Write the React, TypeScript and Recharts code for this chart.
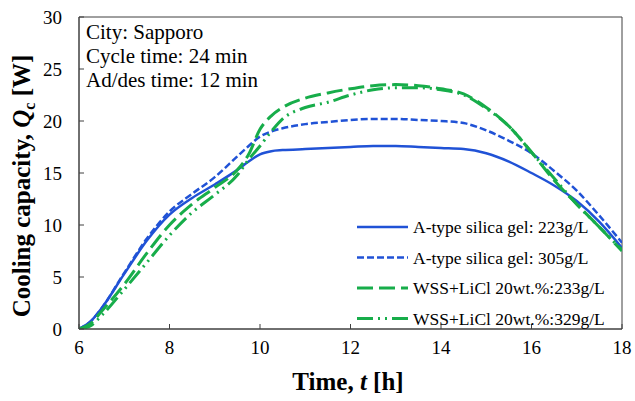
import React from 'react';
import { LineChart, Line, XAxis, YAxis, ReferenceArea, Legend } from 'recharts';

// time [h]
const TIMES = [6, 6.25, 6.5, 7, 7.5, 8, 8.5, 9, 9.5, 9.75, 10, 10.25, 10.5, 11, 11.5, 12, 12.5, 13, 13.5, 14, 14.5, 15, 15.5, 16, 16.5, 17, 17.5, 18];

// cooling capacity Qc [W]
const SILICA_223 = [0, 0.7, 2.0, 5.3, 8.5, 11.0, 12.6, 13.9, 15.3, 16.1, 16.8, 17.1, 17.2, 17.3, 17.4, 17.5, 17.6, 17.6, 17.5, 17.4, 17.3, 16.9, 16.1, 15.0, 13.8, 12.3, 10.3, 7.8];
const SILICA_305 = [0, 0.7, 2.0, 5.4, 8.7, 11.3, 13.0, 14.6, 16.6, 17.6, 18.5, 19.0, 19.3, 19.7, 19.9, 20.1, 20.2, 20.2, 20.1, 20.0, 19.8, 19.1, 18.1, 16.9, 15.2, 13.3, 10.9, 8.3];
const WSS_233 = [0, 0.5, 1.7, 4.3, 7.3, 10.0, 12.0, 13.6, 15.3, 16.8, 19.2, 20.5, 21.3, 22.2, 22.7, 23.1, 23.4, 23.5, 23.4, 23.1, 22.6, 21.3, 19.5, 17.0, 14.3, 12.0, 9.8, 7.5];
const WSS_329 = [0, 0.3, 1.3, 3.8, 6.4, 9.0, 11.2, 12.9, 14.8, 16.3, 17.6, 19.0, 20.2, 21.3, 21.8, 22.5, 23.0, 23.2, 23.2, 23.0, 22.5, 21.2, 19.5, 17.0, 14.5, 12.0, 9.8, 7.6];

const X_TICKS = [6, 8, 10, 12, 14, 16, 18];
const Y_TICKS = [0, 5, 10, 15, 20, 25, 30];

const NOTES = ['City: Sapporo', 'Cycle time: 24 min', 'Ad/des time: 12 min'];

const BLUE = '#2052d6';
const GREEN = '#17ad4a';
const AXIS = '#404040';
const FONT = 'Liberation Serif, Times New Roman, serif';

const SERIES = [
    { key: 's223', name: 'A-type silica gel: 223g/L', color: BLUE, dash: undefined, width: 2.5 },
    { key: 's305', name: 'A-type silica gel: 305g/L', color: BLUE, dash: '7 3', width: 2.5 },
    { key: 'w233', name: 'WSS+LiCl 20wt.%:233g/L', color: GREEN, dash: '16 6', width: 3 },
    { key: 'w329', name: 'WSS+LiCl 20wt.%:329g/L', color: GREEN, dash: '16 5 2 5 2 5', width: 3 },
];

const rows = TIMES.map((t, i) => ({
    t,
    s223: SILICA_223[i],
    s305: SILICA_305[i],
    w233: WSS_233[i],
    w329: WSS_329[i],
}));

const XTick = (props: any) => {
    const { x, y, payload } = props;
    return (
        <g>
            <line x1={x} x2={x} y1={y} y2={y - 5} stroke={AXIS} strokeWidth={1} />
            <text x={x} y={y + 25} textAnchor="middle" fontSize={19} fontFamily={FONT} fill="#000">
                {payload.value}
            </text>
        </g>
    );
};

const YTick = (props: any) => {
    const { x, y, payload } = props;
    return (
        <g>
            <line x1={x} x2={x + 5} y1={y} y2={y} stroke={AXIS} strokeWidth={1} />
            <text x={x - 17} y={y + 6.5} textAnchor="end" fontSize={19} fontFamily={FONT} fill="#000">
                {payload.value}
            </text>
        </g>
    );
};

const renderLegend = () => (
    <svg width={280} height={125} style={{ display: 'block' }}>
        {SERIES.map((s, i) => {
            const cy = 12 + i * 30.5;
            return (
                <g key={s.key}>
                    <line x1={7} x2={58} y1={cy} y2={cy} stroke={s.color} strokeWidth={s.width} strokeDasharray={s.dash} />
                    <text x={63} y={cy + 6} fontSize={17.5} fontFamily={FONT} fill="#000">
                        {s.name}
                    </text>
                </g>
            );
        })}
    </svg>
);

export default function App() {
    return (
        <div style={{ position: 'fixed', left: 0, top: 0, width: 635, height: 401, background: '#fff', fontFamily: FONT }}>
            <LineChart width={635} height={401} data={rows} margin={{ top: 17, right: 13, bottom: 0, left: 0 }}>
                <XAxis
                    dataKey="t"
                    type="number"
                    domain={[6, 18]}
                    ticks={X_TICKS}
                    height={72}
                    tickSize={0}
                    tickMargin={0}
                    tickLine={false}
                    tick={<XTick />}
                    axisLine={{ stroke: AXIS }}
                    allowDataOverflow
                />
                <YAxis
                    type="number"
                    domain={[0, 30]}
                    ticks={Y_TICKS}
                    width={79}
                    tickSize={0}
                    tickMargin={0}
                    tickLine={false}
                    tick={<YTick />}
                    axisLine={{ stroke: AXIS }}
                    allowDataOverflow
                />
                <ReferenceArea x1={6} x2={18} y1={0} y2={30} fill="none" stroke={AXIS} strokeWidth={1} />
                {SERIES.map((s) => (
                    <Line
                        key={s.key}
                        dataKey={s.key}
                        name={s.name}
                        type="monotone"
                        stroke={s.color}
                        strokeWidth={s.width}
                        strokeDasharray={s.dash}
                        dot={false}
                        activeDot={false}
                        isAnimationActive={false}
                    />
                ))}
                <Legend
                    layout="vertical"
                    align="center"
                    verticalAlign="middle"
                    content={renderLegend}
                    wrapperStyle={{ left: 350, top: 215, width: 280, height: 125 }}
                />
            </LineChart>
            <svg width={635} height={401} style={{ position: 'absolute', left: 0, top: 0, pointerEvents: 'none' }}>
                {NOTES.map((n, i) => (
                    <text key={n} x={86} y={39 + i * 24} fontSize={21} fontFamily={FONT} fill="#000">
                        {n}
                    </text>
                ))}
                <text x={348} y={390} textAnchor="middle" fontSize={25} fontWeight="bold" fontFamily={FONT} fill="#000">
                    Time, <tspan fontStyle="italic">t</tspan> [h]
                </text>
                <text
                    transform="translate(30,186) rotate(-90)"
                    textAnchor="middle"
                    fontSize={25}
                    fontWeight="bold"
                    fontFamily={FONT}
                    fill="#000"
                >
                    Cooling capacity, <tspan fontStyle="italic">Q</tspan>
                    <tspan fontSize={16} dy={5}>c</tspan>
                    <tspan dy={-5}> [W]</tspan>
                </text>
            </svg>
        </div>
    );
}
